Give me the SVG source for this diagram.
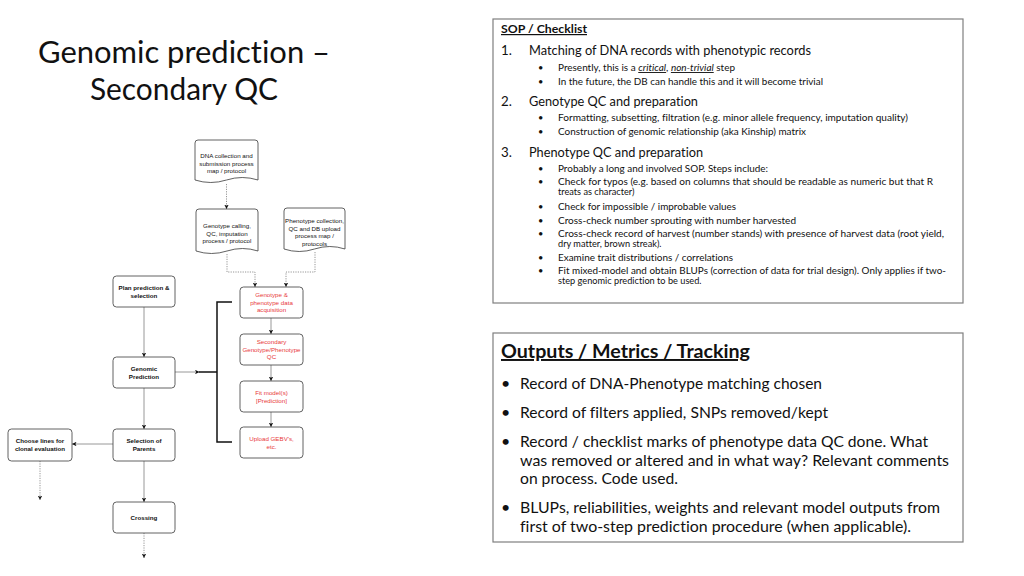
<svg xmlns="http://www.w3.org/2000/svg" width="1024" height="576" viewBox="0 0 1024 576">
<defs>
<marker id="ah" viewBox="0 0 6 6" refX="6" refY="3" markerWidth="4.5" markerHeight="4.5" markerUnits="userSpaceOnUse" orient="auto">
<path d="M0,0 L6,3 L0,6 L1.5,3 Z" fill="#111"/>
</marker>
</defs>
<style>
.bg{fill:#fff}
.node{fill:#fff;stroke:#3a3a3a;stroke-width:0.8}
.doc{fill:#fff;stroke:#3a3a3a;stroke-width:0.8}
.bt{font-family:"Liberation Sans",Arial,sans-serif;font-size:6.2px;font-weight:bold;fill:#111;text-anchor:middle}
.nt{font-family:"Liberation Sans",Arial,sans-serif;font-size:6.2px;fill:#111;text-anchor:middle}
.rt{font-family:"Liberation Sans",Arial,sans-serif;font-size:6.2px;fill:#e8383a;text-anchor:middle}
.solid{fill:none;stroke:#8c8c8c;stroke-width:0.9}
.dot{fill:none;stroke:#8a8a8a;stroke-width:0.9;stroke-dasharray:1.2,1.2}
.brk{fill:none;stroke:#111;stroke-width:1.5}
.box{fill:#fff;stroke:#7f7f7f;stroke-width:1.2}
.cal{font-family:Lato,"Open Sans",sans-serif;fill:#111;font-variant-ligatures:none}
.h1{font-size:13.3px}
.b1{font-size:9.2px}
.o1{font-size:16px}
</style>
<rect class="bg" x="0" y="0" width="1024" height="576"/>

<g id="title">
<text class="cal" x="184" y="62.5" font-size="30" text-anchor="middle" textLength="292" lengthAdjust="spacingAndGlyphs">Genomic prediction –</text>
<text class="cal" x="184" y="100" font-size="30" text-anchor="middle" textLength="188" lengthAdjust="spacingAndGlyphs">Secondary QC</text>
</g>

<g id="connectors">
<path class="dot" d="M226.5,184 V209" marker-end="url(#ah)"/>
<path class="dot" d="M227,254 V272 H255 V287" marker-end="url(#ah)"/>
<path class="dot" d="M315,252 V272 H286 V287" marker-end="url(#ah)"/>
<path class="solid" d="M271,318 V334" marker-end="url(#ah)"/>
<path class="solid" d="M271,365 V381" marker-end="url(#ah)"/>
<path class="solid" d="M271,412 V427" marker-end="url(#ah)"/>
<path class="solid" d="M144,307 V357" marker-end="url(#ah)"/>
<path class="solid" d="M144,388 V429" marker-end="url(#ah)"/>
<path class="solid" d="M144,461 V502" marker-end="url(#ah)"/>
<path class="solid" d="M113,444 H72" marker-end="url(#ah)"/>
<path class="solid" d="M175,372 H199.5" marker-end="url(#ah)"/>
<path class="brk" d="M199,372 H217"/>
<path class="brk" d="M232,302 H217 V442 H232"/>
<path class="dot" d="M40,461 V500" marker-end="url(#ah)"/>
<path class="dot" d="M144,533 V558" marker-end="url(#ah)"/>
</g>

<g id="doc-dna">
<path class="doc" d="M195,143 Q195,140 198,140 H255 Q258,140 258,143 V180 Q242.25,175 226.5,180 Q210.75,185 195,180 Z"/>
<text class="nt" x="226.5" y="158">DNA collection and</text>
<text class="nt" x="226.5" y="165.5">submission process</text>
<text class="nt" x="226.5" y="173">map / protocol</text>
</g>

<g id="doc-genotype">
<path class="doc" d="M196,212 Q196,209 199,209 H255 Q258,209 258,212 V251 Q242.5,246 227,251 Q211.5,256 196,251 Z"/>
<text class="nt" x="227" y="228">Genotype calling,</text>
<text class="nt" x="227" y="235.5">QC, imputation</text>
<text class="nt" x="227" y="243">process / protocol</text>
</g>

<g id="doc-phenotype">
<path class="doc" d="M284,211 Q284,208 287,208 H342 Q345,208 345,211 V249 Q329.75,244 314.5,249 Q299.25,254 284,249 Z"/>
<text class="nt" x="314.5" y="223">Phenotype collection,</text>
<text class="nt" x="314.5" y="230.5">QC and DB upload</text>
<text class="nt" x="314.5" y="238">process map /</text>
<text class="nt" x="314.5" y="245.5">protocols</text>
</g>

<g id="n-acq">
<rect class="node" x="240" y="287" width="63" height="31" rx="3.5"/>
<text class="rt" x="271.5" y="297">Genotype &amp;</text>
<text class="rt" x="271.5" y="304.5">phenotype data</text>
<text class="rt" x="271.5" y="312">acquisition</text>
</g>
<g id="n-secqc">
<rect class="node" x="240" y="334" width="63" height="31" rx="3.5"/>
<text class="rt" x="271.5" y="344">Secondary</text>
<text class="rt" x="271.5" y="351.5">Genotype/Phenotype</text>
<text class="rt" x="271.5" y="359">QC</text>
</g>
<g id="n-fit">
<rect class="node" x="240" y="381" width="63" height="31" rx="3.5"/>
<text class="rt" x="271.5" y="395">Fit model(s)</text>
<text class="rt" x="271.5" y="402.5">[Prediction]</text>
</g>
<g id="n-upload">
<rect class="node" x="240" y="427" width="63" height="31" rx="3.5"/>
<text class="rt" x="271.5" y="441">Upload GEBV's,</text>
<text class="rt" x="271.5" y="448.5">etc.</text>
</g>

<g id="n-plan">
<rect class="node" x="113" y="276" width="62" height="31" rx="3.5"/>
<text class="bt" x="144" y="290">Plan prediction &amp;</text>
<text class="bt" x="144" y="297.5">selection</text>
</g>
<g id="n-genomic">
<rect class="node" x="113" y="357" width="62" height="31" rx="3.5"/>
<text class="bt" x="144" y="371">Genomic</text>
<text class="bt" x="144" y="378.5">Prediction</text>
</g>
<g id="n-selection">
<rect class="node" x="113" y="429" width="62" height="32" rx="3.5"/>
<text class="bt" x="144" y="443">Selection of</text>
<text class="bt" x="144" y="450.5">Parents</text>
</g>
<g id="n-choose">
<rect class="node" x="8" y="429" width="64" height="32" rx="3.5"/>
<text class="bt" x="40" y="443">Choose lines for</text>
<text class="bt" x="40" y="450.5">clonal evaluation</text>
</g>
<g id="n-crossing">
<rect class="node" x="113" y="502" width="62" height="31" rx="3.5"/>
<text class="bt" x="144" y="519.5">Crossing</text>
</g>

<g id="sop">
<rect class="box" x="493" y="19" width="470" height="284"/>
<text class="cal" x="501" y="33" font-size="12" font-weight="bold" text-decoration="underline" textLength="86" lengthAdjust="spacingAndGlyphs">SOP / Checklist</text>
<text class="cal h1" x="501" y="54.5">1.</text>
<text class="cal h1" x="529" y="54.5" textLength="282" lengthAdjust="spacingAndGlyphs">Matching of DNA records with phenotypic records</text>
<text class="cal b1" x="538" y="71">•</text>
<text class="cal b1" x="558" y="71" textLength="177" lengthAdjust="spacingAndGlyphs">Presently, this is a <tspan font-style="italic" text-decoration="underline">critical</tspan>, <tspan font-style="italic" text-decoration="underline">non-trivial</tspan> step</text>
<text class="cal b1" x="538" y="84.5">•</text>
<text class="cal b1" x="558" y="84.5" textLength="265" lengthAdjust="spacingAndGlyphs">In the future, the DB can handle this and it will become trivial</text>
<text class="cal h1" x="501" y="106">2.</text>
<text class="cal h1" x="529" y="106" textLength="169" lengthAdjust="spacingAndGlyphs">Genotype QC and preparation</text>
<text class="cal b1" x="538" y="120.5">•</text>
<text class="cal b1" x="558" y="120.5" textLength="350" lengthAdjust="spacingAndGlyphs">Formatting, subsetting, filtration (e.g. minor allele frequency, imputation quality)</text>
<text class="cal b1" x="538" y="135">•</text>
<text class="cal b1" x="558" y="135" textLength="248" lengthAdjust="spacingAndGlyphs">Construction of genomic relationship (aka Kinship) matrix</text>
<text class="cal h1" x="501" y="156.5">3.</text>
<text class="cal h1" x="529" y="156.5" textLength="174" lengthAdjust="spacingAndGlyphs">Phenotype QC and preparation</text>
<text class="cal b1" x="538" y="171.5">•</text>
<text class="cal b1" x="558" y="171.5" textLength="210" lengthAdjust="spacingAndGlyphs">Probably a long and involved SOP. Steps include:</text>
<text class="cal b1" x="538" y="185">•</text>
<text class="cal b1" x="558" y="185" textLength="375" lengthAdjust="spacingAndGlyphs">Check for typos (e.g. based on columns that should be readable as numeric but that R</text>
<text class="cal b1" x="558" y="195">treats as character)</text>
<text class="cal b1" x="538" y="209.5">•</text>
<text class="cal b1" x="558" y="209.5" textLength="178" lengthAdjust="spacingAndGlyphs">Check for impossible / improbable values</text>
<text class="cal b1" x="538" y="223.5">•</text>
<text class="cal b1" x="558" y="223.5" textLength="238" lengthAdjust="spacingAndGlyphs">Cross-check number sprouting with number harvested</text>
<text class="cal b1" x="538" y="237">•</text>
<text class="cal b1" x="558" y="237" textLength="386" lengthAdjust="spacingAndGlyphs">Cross-check record of harvest (number stands) with presence of harvest data (root yield,</text>
<text class="cal b1" x="558" y="247">dry matter, brown streak).</text>
<text class="cal b1" x="538" y="260.5">•</text>
<text class="cal b1" x="558" y="260.5" textLength="175" lengthAdjust="spacingAndGlyphs">Examine trait distributions / correlations</text>
<text class="cal b1" x="538" y="274">•</text>
<text class="cal b1" x="558" y="274" textLength="388" lengthAdjust="spacingAndGlyphs">Fit mixed-model and obtain BLUPs (correction of data for trial design). Only applies if two-</text>
<text class="cal b1" x="558" y="284">step genomic prediction to be used.</text>
</g>

<g id="outputs">
<rect class="box" x="493" y="333" width="470" height="209"/>
<text class="cal" x="501" y="358" font-size="19.5" font-weight="bold" text-decoration="underline" textLength="249" lengthAdjust="spacingAndGlyphs">Outputs / Metrics / Tracking</text>
<text class="cal o1" x="501" y="388.5">•</text>
<text class="cal o1" x="520" y="388.5" textLength="302" lengthAdjust="spacingAndGlyphs">Record of DNA-Phenotype matching chosen</text>
<text class="cal o1" x="501" y="417.5">•</text>
<text class="cal o1" x="520" y="417.5" textLength="308" lengthAdjust="spacingAndGlyphs">Record of filters applied, SNPs removed/kept</text>
<text class="cal o1" x="501" y="446.5">•</text>
<text class="cal o1" x="520" y="446.5" textLength="408" lengthAdjust="spacingAndGlyphs">Record / checklist marks of phenotype data QC done. What</text>
<text class="cal o1" x="520" y="465.5" textLength="429" lengthAdjust="spacingAndGlyphs">was removed or altered and in what way? Relevant comments</text>
<text class="cal o1" x="520" y="484" textLength="158" lengthAdjust="spacingAndGlyphs">on process. Code used.</text>
<text class="cal o1" x="501" y="512.5">•</text>
<text class="cal o1" x="520" y="512.5" textLength="420" lengthAdjust="spacingAndGlyphs">BLUPs, reliabilities, weights and relevant model outputs from</text>
<text class="cal o1" x="520" y="531.5" textLength="391" lengthAdjust="spacingAndGlyphs">first of two-step prediction procedure (when applicable).</text>
</g>
</svg>
